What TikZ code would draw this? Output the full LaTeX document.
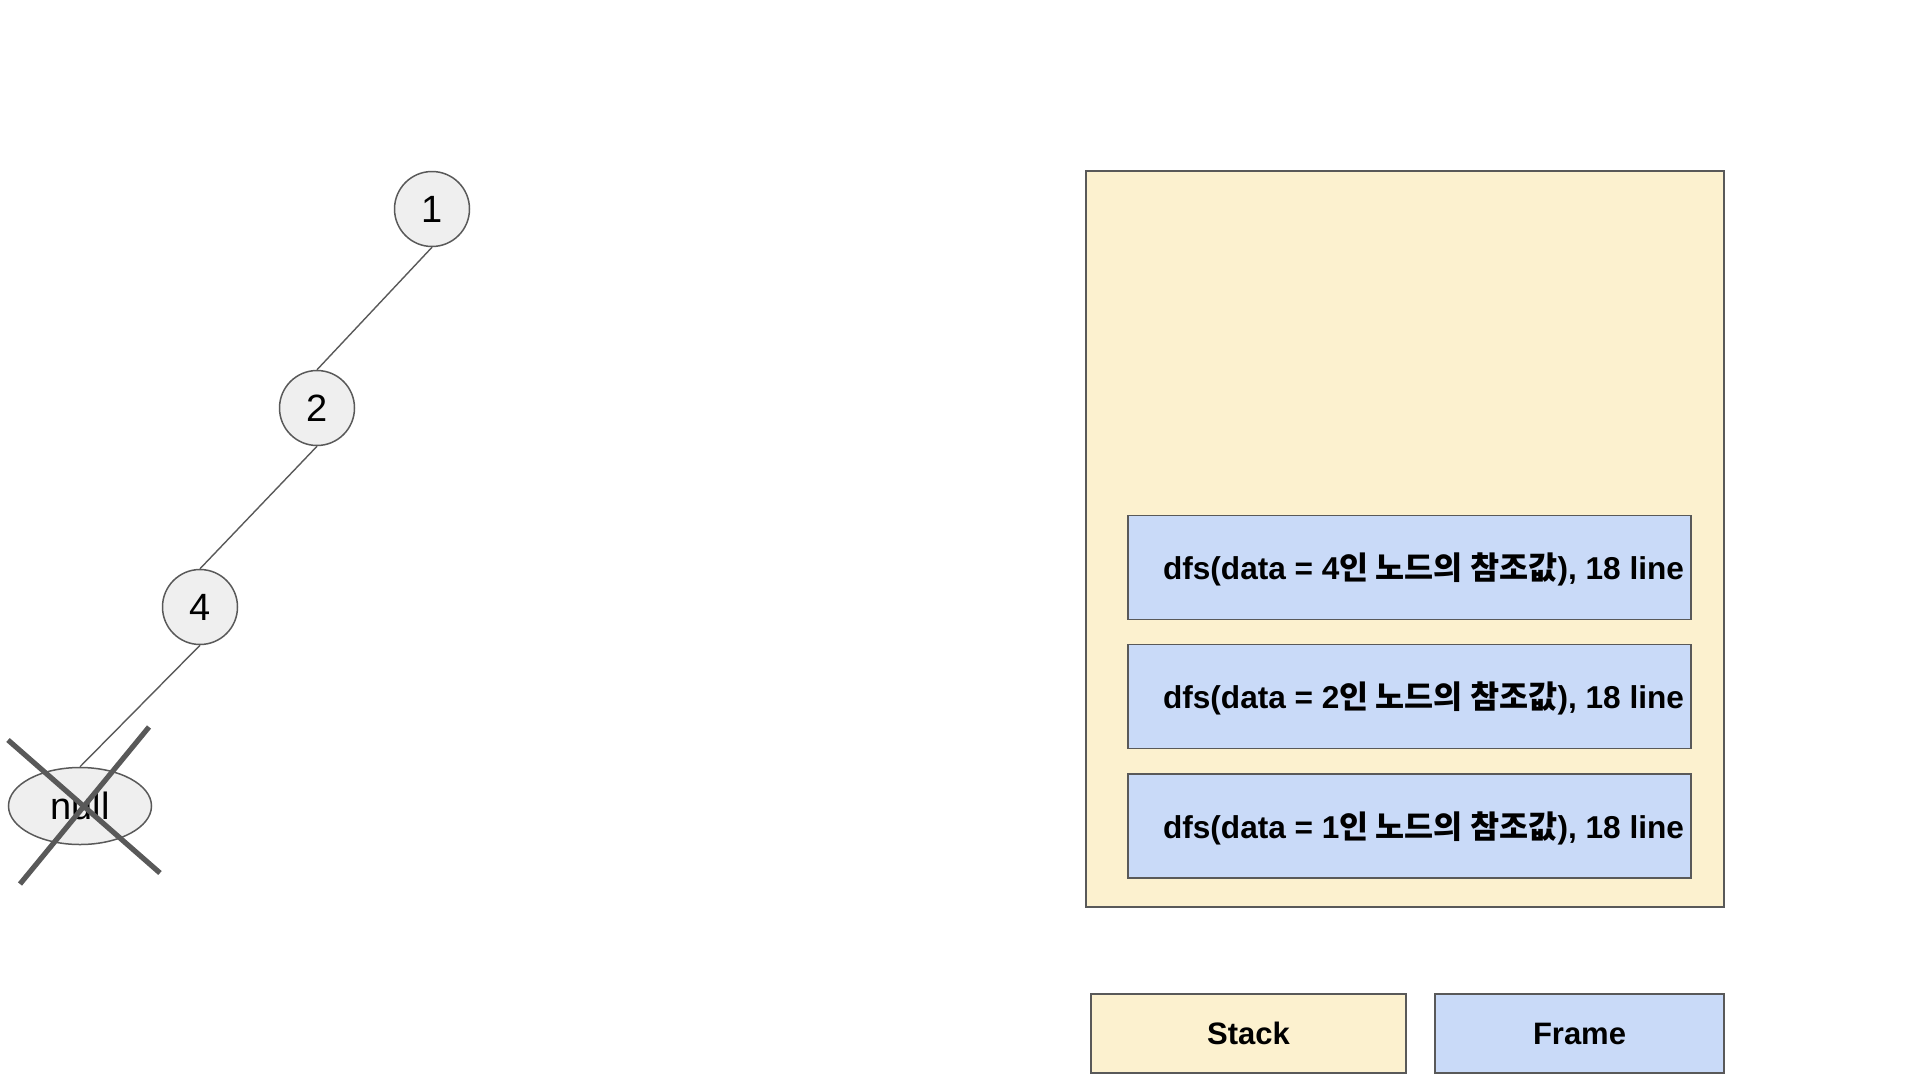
\documentclass[tikz,border=0pt]{standalone}
\usepackage{fontspec}
\setmainfont{Liberation Sans}
\newfontfamily\kr{Noto Sans CJK KR}
\usetikzlibrary{shapes.geometric}
\definecolor{bordergray}{HTML}{595959}
\definecolor{nodefill}{HTML}{EFEFEF}
\definecolor{stackfill}{HTML}{FCF1CF}
\definecolor{framefill}{HTML}{C9DAF8}
\tikzset{
  treenode/.style={circle,draw=bordergray,fill=nodefill,line width=0.75pt,minimum size=37.5pt,inner sep=0pt,font=\fontsize{19}{22}\selectfont},
  nullnode/.style={ellipse,draw=bordergray,fill=nodefill,line width=0.75pt,minimum width=71.5pt,minimum height=38.5pt,inner sep=0pt,font=\fontsize{19}{22}\selectfont},
  edge/.style={draw=bordergray,line width=0.7pt},
  crossline/.style={draw=bordergray,line width=2.6pt},
  stackbox/.style={rectangle,draw=bordergray,fill=stackfill,line width=0.75pt,inner sep=0pt},
  framebox/.style={rectangle,draw=bordergray,fill=framefill,line width=0.75pt,inner sep=0pt,minimum width=281.5pt,minimum height=52pt},
  frametext/.style={inner sep=0pt,font=\fontsize{15.8}{18}\selectfont\bfseries},
  legendtext/.style={font=\fontsize{15.5}{18}\selectfont\bfseries}
}
\begin{document}
\begin{tikzpicture}[x=0.5pt,y=-0.5pt]
\useasboundingbox (0,0) rectangle (1920,1082);
% tree
\node[treenode] (n1) at (432,209) {1};
\node[treenode] (n2) at (317,408) {2};
\node[treenode] (n4) at (200,607) {4};
\node[nullnode] (nnull) at (80,806) {null};
\draw[edge] (n1.south) -- (n2.north);
\draw[edge] (n2.south) -- (n4.north);
\draw[edge] (n4.south) -- (nnull.north);
% cross
\coordinate (c1a) at (8,740);
\coordinate (c1b) at (160,873);
\coordinate (c2a) at (149,727);
\coordinate (c2b) at (20,884);
\draw[crossline] (c1a) -- (c1b);
\draw[crossline] (c2a) -- (c2b);
% stack
\node[stackbox,minimum width=319pt,minimum height=368pt] (stack) at (1405,539) {};
\node[framebox] (f4) at (1409.5,567.5) {};
\node[framebox] (f2) at (1409.5,696.5) {};
\node[framebox] (f1) at (1409.5,826) {};
\node[frametext] (t4) at ([xshift=7pt,yshift=-1pt]f4.center) {dfs(data = 4{\kr 인 노드의 참조값}), 18 line};
\node[frametext] (t2) at ([xshift=7pt,yshift=-1pt]f2.center) {dfs(data = 2{\kr 인 노드의 참조값}), 18 line};
\node[frametext] (t1) at ([xshift=7pt,yshift=-1pt]f1.center) {dfs(data = 1{\kr 인 노드의 참조값}), 18 line};
% legend
\node[stackbox,minimum width=157.5pt,minimum height=39.5pt,legendtext] (lstack) at (1248.5,1033.5) {Stack};
\node[framebox,minimum width=144.5pt,minimum height=39.5pt,legendtext] (lframe) at (1579.5,1033.5) {Frame};
\end{tikzpicture}
\end{document}
